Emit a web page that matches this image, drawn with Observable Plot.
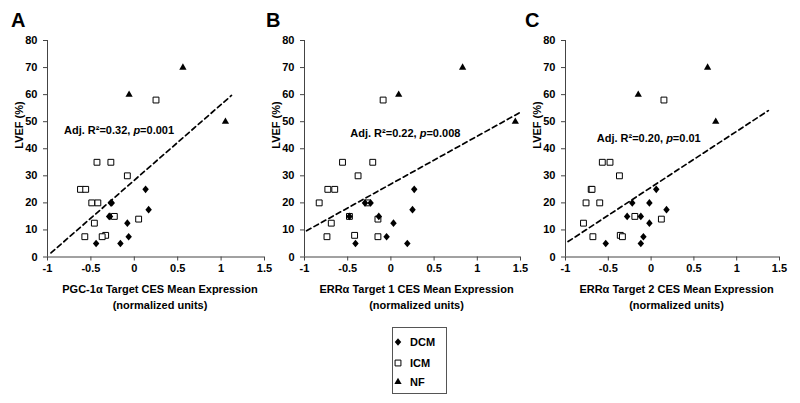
<!DOCTYPE html>
<html>
<head>
<meta charset="utf-8">
<script src="https://cdn.jsdelivr.net/npm/d3@7"></script>
<script src="https://cdn.jsdelivr.net/npm/@observablehq/plot@0.6"></script>
<style>
  html, body { margin: 0; padding: 0; background: #fff; }
  body { font-family: "Liberation Sans", Arial, sans-serif; }
  #wrap { position: relative; width: 800px; height: 403px; overflow: hidden; background: #fff; }
  .panel { position: absolute; top: 0; }
  .letter { position: absolute; top: 10px; font-size: 20px; line-height: 20px; font-weight: bold; color: #000; }
  #legend { position: absolute; left: 392px; top: 327px; width: 55px; height: 67px; border: 1px solid #555; box-sizing: border-box; }
  .lg-item { position: absolute; left: 0; font-size: 11px; font-weight: bold; line-height: 12px; white-space: nowrap; }
  .lg-item svg { position: absolute; left: 0; top: 0; overflow: visible; }
  .lg-item span { position: absolute; left: 12px; top: -6px; }
</style>
</head>
<body>
<div id="wrap"></div>
<script>
// ---------------- data ----------------
const groups = ["DCM", "ICM", "NF"];
const panelLetters = ["A", "B", "C"];
const xLabels = [
  "PGC-1α Target CES Mean Expression",
  "ERRα Target 1 CES Mean Expression",
  "ERRα Target 2 CES Mean Expression"
];
const xUnitsLabel = "(normalized units)";
const yLabel = "LVEF (%)";
const xTicks = [-1, -0.5, 0, 0.5, 1, 1.5];
const yTicks = [0, 10, 20, 30, 40, 50, 60, 70, 80];

// LVEF values (shared across panels, same order)
const lvefDCM = [20, 20, 15, 15, 25, 17.5, 12.5, 7.5, 5, 5];
const lvefICM = [58, 35, 35, 30, 25, 25, 20, 20, 15, 12.5, 14, 7.5, 8, 7.5];
const lvefNF  = [60, 70, 50];

// Panel A: PGC-1α target CES
const xA_DCM = [-0.27, -0.26, -0.29, -0.28, 0.13, 0.165, -0.08, -0.065, -0.44, -0.16];
const xA_ICM = [0.25, -0.43, -0.27, -0.08, -0.62, -0.56, -0.49, -0.42, -0.23, -0.46, 0.05, -0.57, -0.33, -0.37];
const xA_NF  = [-0.06, 0.56, 1.05];
// Panel B: ERRα target 1 CES
const xB_DCM = [-0.30, -0.235, -0.48, -0.14, 0.27, 0.25, 0.03, -0.05, -0.41, 0.19];
const xB_ICM = [-0.09, -0.56, -0.21, -0.38, -0.73, -0.65, -0.83, -0.27, -0.48, -0.69, -0.15, -0.74, -0.42, -0.15];
const xB_NF  = [0.09, 0.83, 1.44];
// Panel C: ERRα target 2 CES
const xC_DCM = [-0.22, -0.02, -0.28, -0.12, 0.06, 0.18, -0.02, -0.09, -0.53, -0.12];
const xC_ICM = [0.15, -0.57, -0.48, -0.37, -0.70, -0.69, -0.76, -0.60, -0.19, -0.79, 0.12, -0.68, -0.36, -0.335];
const xC_NF  = [-0.15, 0.66, 0.755];

// Fitted regression lines (endpoints as drawn)
const fitX = [[-0.96, 1.12], [-0.976, 1.50], [-0.97, 1.37]];
const fitY = [[1.5, 59.7], [9.7, 53.5], [5.7, 54.1]];

// Statistics annotations
const adjR2 = ["0.32", "0.22", "0.20"];
const pValues = ["0.001", "0.008", "0.01"];
const annX = [-0.81, -0.47, -0.635];
const annY = [46.8, 45.5, 43.9];

// ---------------- layout ----------------
const panelLeft = [0, 257, 518];
const panelMarginRight = [11, 12, 14];
const letterLeft = [11, 266, 525];

const xByPanel = [
  {DCM: xA_DCM, ICM: xA_ICM, NF: xA_NF},
  {DCM: xB_DCM, ICM: xB_ICM, NF: xB_NF},
  {DCM: xC_DCM, ICM: xC_ICM, NF: xC_NF}
];
const yByGroup = {DCM: lvefDCM, ICM: lvefICM, NF: lvefNF};

// Diamond symbol (a bit wider than d3's)
const diamondSym = {
  draw(ctx, size) {
    const b = Math.sqrt(size / 1.7), a = 0.85 * b;
    ctx.moveTo(0, -b); ctx.lineTo(a, 0); ctx.lineTo(0, b); ctx.lineTo(-a, 0); ctx.closePath();
  }
};
const symbolStyle = {
  DCM: {symbol: diamondSym, fill: "black", stroke: "none", r: 2.8},
  ICM: {symbol: "square", fill: "white", stroke: "black", strokeWidth: 1, r: 3.3},
  NF:  {symbol: "triangle", fill: "black", stroke: "none", r: 2.7}
};

const wrap = document.getElementById("wrap");

panelLetters.forEach((letter, i) => {
  const rows = g => xByPanel[i][g].map((x, k) => ({x, y: yByGroup[g][k], group: g}));
  const fit = fitX[i].map((x, k) => ({x, y: fitY[i][k]}));
  const ann = [{x: annX[i], y: annY[i], text: `Adj. R²=${adjR2[i]}, p=${pValues[i]}`}];

  const svg = Plot.plot({
    width: 275, height: 320,
    marginLeft: 47, marginRight: panelMarginRight[i], marginTop: 40, marginBottom: 63.5,
    x: {domain: [-1, 1.5]},
    y: {domain: [0, 80]},
    style: {background: "transparent", fontFamily: "'Liberation Sans', Arial, sans-serif", fontSize: "11px", fontWeight: "bold", color: "#000", overflow: "visible"},
    marks: [
      Plot.axisY({ticks: yTicks, tickSize: 4, tickPadding: 6, label: null, stroke: "#444", tickFormat: d => String(d)}),
      Plot.axisX({ticks: xTicks, tickSize: 4, tickPadding: 3, label: null, stroke: "#444", tickFormat: d => String(d)}),
      Plot.ruleX([-1], {stroke: "#444"}),
      Plot.ruleY([0], {stroke: "#444"}),
      Plot.line(fit, {x: "x", y: "y", stroke: "black", strokeWidth: 1.7, strokeDasharray: "5,3.5"}),
      Plot.dot(rows("ICM"), {x: "x", y: "y", ...symbolStyle.ICM}),
      Plot.dot(rows("DCM"), {x: "x", y: "y", ...symbolStyle.DCM}),
      Plot.dot(rows("NF"), {x: "x", y: "y", ...symbolStyle.NF}),
      Plot.text(ann, {x: "x", y: "y", text: "text", textAnchor: "start", fill: "black", fontSize: 11, fontWeight: "bold"}),
      Plot.text([xLabels[i]], {frameAnchor: "bottom", dx: 4, dy: 36, fill: "black", fontSize: 11, fontWeight: "bold"}),
      Plot.text([xUnitsLabel], {frameAnchor: "bottom", dx: 4, dy: 51.5, fill: "black", fontSize: 11, fontWeight: "bold"}),
      Plot.text([yLabel], {frameAnchor: "left", rotate: -90, dx: -28, fill: "black", fontSize: 11, fontWeight: "bold"})
    ]
  });
  // italic "p" in the annotation
  svg.querySelectorAll("text").forEach(t => {
    const s = t.textContent;
    if (s.startsWith("Adj.")) {
      const idx = s.indexOf("p=");
      t.textContent = "";
      const ns = "http://www.w3.org/2000/svg";
      const a = document.createElementNS(ns, "tspan"); a.textContent = s.slice(0, idx);
      const b = document.createElementNS(ns, "tspan"); b.textContent = "p"; b.setAttribute("font-style", "italic");
      const c = document.createElementNS(ns, "tspan"); c.textContent = s.slice(idx + 1);
      t.append(a, b, c);
    }
  });
  const holder = document.createElement("div");
  holder.className = "panel";
  holder.style.left = panelLeft[i] + "px";
  holder.appendChild(svg);
  wrap.appendChild(holder);

  const L = document.createElement("div");
  L.className = "letter";
  L.style.left = letterLeft[i] + "px";
  L.textContent = letter;
  wrap.appendChild(L);
});

// ---------------- legend ----------------
const legend = document.createElement("div");
legend.id = "legend";
wrap.appendChild(legend);
const legendTop = [14, 34.5, 53.5];
groups.forEach((g, k) => {
  const item = document.createElement("div");
  item.className = "lg-item";
  item.style.top = legendTop[k] + "px";
  item.style.left = "5px";
  const st = symbolStyle[g];
  const sym = typeof st.symbol === "string" ? (g === "ICM" ? d3.symbolSquare : d3.symbolTriangle) : st.symbol;
  const path = d3.symbol(sym, st.r * st.r * Math.PI)();
  item.innerHTML = `<svg width="10" height="10" viewBox="-5 -5 10 10" style="left:-5px;top:-5px"><path d="${path}" fill="${st.fill}" stroke="${st.stroke}" stroke-width="1"/></svg><span>${g}</span>`;
  legend.appendChild(item);
});
</script>
</body>
</html>
